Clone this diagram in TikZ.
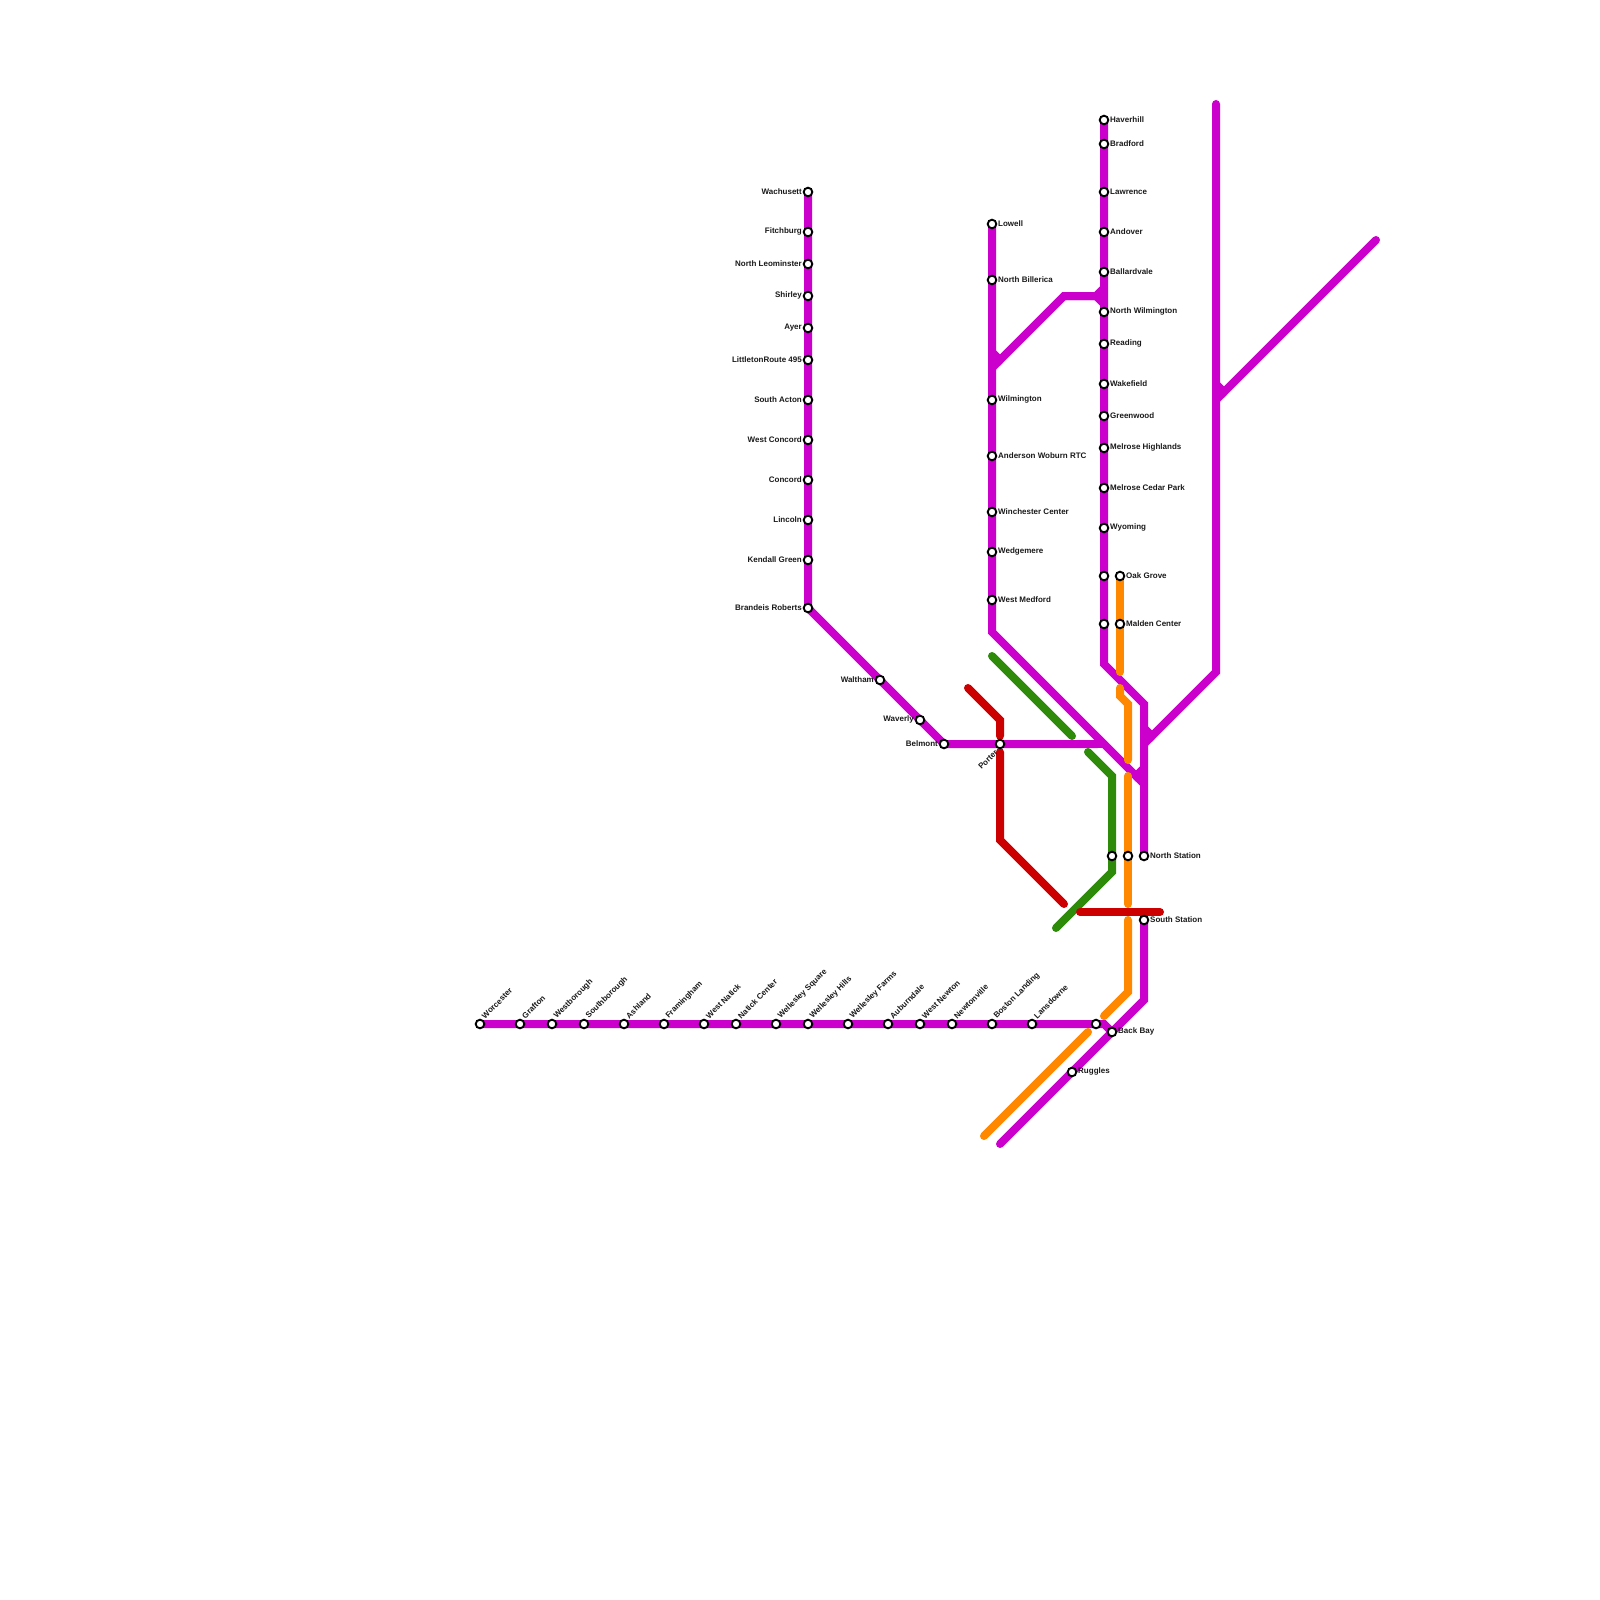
\documentclass[tikz,border=0pt]{standalone}
\usepackage{fontspec}
\setmainfont{Liberation Sans}
\usetikzlibrary{backgrounds}
\definecolor{cpurple}{HTML}{CC00CC}
\definecolor{corange}{HTML}{FF8800}
\definecolor{cgreen}{HTML}{2E8B0A}
\definecolor{cred}{HTML}{CC0000}
\tikzset{
  station/.style={circle,draw=black,fill=white,line width=1.9pt,minimum size=8.6pt,inner sep=0pt},
  lbl/.style={inner sep=0pt,font=\fontsize{8}{9}\selectfont\bfseries,text=black!90},
  route/.style={line width=8pt,line cap=round,line join=miter,miter limit=10},
  purple line/.style={route,draw=cpurple},
  orange line/.style={route,draw=corange},
  green line/.style={route,draw=cgreen},
  red line/.style={route,draw=cred},
}
% station with label to the right, left, rotated up-right, rotated down-left, or none
\newcommand\stR[4]{\node[station] (#1) at (#2,#3) {}; \node[lbl,anchor=west,xshift=6pt,yshift=0.2pt] (#1-t) at (#1.center) {#4};}
\newcommand\stL[4]{\node[station] (#1) at (#2,#3) {}; \node[lbl,anchor=east,xshift=-6pt,yshift=0.2pt] (#1-t) at (#1.center) {#4};}
\newcommand\stD[4]{\node[station] (#1) at (#2,#3) {}; \node[lbl,anchor=west,rotate=45,xshift=7pt,yshift=2.5pt] (#1-t) at (#1.center) {#4};}
\newcommand\stB[4]{\node[station] (#1) at (#2,#3) {}; \node[lbl,anchor=east,rotate=45,xshift=-7.5pt,yshift=-2.5pt] (#1-t) at (#1.center) {#4};}
\newcommand\stN[3]{\node[station] (#1) at (#2,#3) {};}
\begin{document}
\begin{tikzpicture}[x=1pt,y=-1pt]
\useasboundingbox (0,0) rectangle (1600,1600);
% Fitchburg line
\stL{wach}{808}{192}{Wachusett}
\stL{fitch}{808}{232}{Fitchburg}
\stL{nleo}{808}{264}{North Leominster}
\stL{shir}{808}{296}{Shirley}
\stL{ayer}{808}{328}{Ayer}
\stL{litt}{808}{360}{LittletonRoute 495}
\stL{sact}{808}{400}{South Acton}
\stL{wcon}{808}{440}{West Concord}
\stL{conc}{808}{480}{Concord}
\stL{linc}{808}{520}{Lincoln}
\stL{kend}{808}{560}{Kendall Green}
\stL{bran}{808}{608}{Brandeis Roberts}
\stL{walt}{880}{680}{Waltham}
\stL{wave}{920}{720}{Waverly}
\stL{belm}{944}{744}{Belmont}
\stB{port}{1000}{744}{Porter}
% Lowell line
\stR{lowe}{992}{224}{Lowell}
\stR{nbil}{992}{280}{North Billerica}
\stR{wilm}{992}{400}{Wilmington}
\stR{ande}{992}{456}{Anderson Woburn RTC}
\stR{winc}{992}{512}{Winchester Center}
\stR{wedg}{992}{552}{Wedgemere}
\stR{wmed}{992}{600}{West Medford}
% Haverhill line
\stR{have}{1104}{120}{Haverhill}
\stR{brad}{1104}{144}{Bradford}
\stR{lawr}{1104}{192}{Lawrence}
\stR{ando}{1104}{232}{Andover}
\stR{ball}{1104}{272}{Ballardvale}
\stR{nwil}{1104}{312}{North Wilmington}
\stR{read}{1104}{344}{Reading}
\stR{wake}{1104}{384}{Wakefield}
\stR{gree}{1104}{416}{Greenwood}
\stR{mhig}{1104}{448}{Melrose Highlands}
\stR{mced}{1104}{488}{Melrose Cedar Park}
\stR{wyom}{1104}{528}{Wyoming}
\stN{hu}{1104}{576}
\stN{hv}{1104}{624}
\stR{oakg}{1120}{576}{Oak Grove}
\stR{mald}{1120}{624}{Malden Center}
\stN{gn}{1112}{856}
\stN{on}{1128}{856}
\stR{nsta}{1144}{856}{North Station}
\stR{ssta}{1144}{920}{South Station}
\stR{bbay}{1112}{1032}{Back Bay}
\stR{rugg}{1072}{1072}{Ruggles}
\stN{wu}{1096}{1024}
% Worcester line
\stD{worc}{480}{1024}{Worcester}
\stD{graf}{520}{1024}{Grafton}
\stD{west}{552}{1024}{Westborough}
\stD{sout}{584}{1024}{Southborough}
\stD{ashl}{624}{1024}{Ashland}
\stD{fram}{664}{1024}{Framingham}
\stD{wnat}{704}{1024}{West Natick}
\stD{ncen}{736}{1024}{Natick Center}
\stD{wsqu}{776}{1024}{Wellesley Square}
\stD{whil}{808}{1024}{Wellesley Hills}
\stD{wfar}{848}{1024}{Wellesley Farms}
\stD{aubu}{888}{1024}{Auburndale}
\stD{wnew}{920}{1024}{West Newton}
\stD{newt}{952}{1024}{Newtonville}
\stD{bost}{992}{1024}{Boston Landing}
\stD{lans}{1032}{1024}{Lansdowne}
% free ends and bends
\coordinate (p1) at (1096,744);
\coordinate (p2) at (1100,740);
\coordinate (p3) at (1104,744);
\coordinate (p4) at (992,632);
\coordinate (p5) at (1136,776);
\coordinate (p6) at (1144,768);
\coordinate (p7) at (1144,784);
\coordinate (p8) at (1104,664);
\coordinate (p9) at (1144,704);
\coordinate (p10) at (1064,296);
\coordinate (p11) at (1096,296);
\coordinate (p12) at (1104,288);
\coordinate (p13) at (1104,304);
\coordinate (p14) at (1000,360);
\coordinate (p15) at (992,352);
\coordinate (p16) at (992,368);
\coordinate (p17) at (1216,104);
\coordinate (p18) at (1216,672);
\coordinate (p19) at (1152,736);
\coordinate (p20) at (1144,728);
\coordinate (p21) at (1144,744);
\coordinate (p22) at (1376,240);
\coordinate (p23) at (1224,392);
\coordinate (p24) at (1216,384);
\coordinate (p25) at (1216,400);
\coordinate (p26) at (1144,1000);
\coordinate (p27) at (1000,1144);
\coordinate (p28) at (1104,1024);
\coordinate (o1) at (1120,672);
\coordinate (o2) at (1120,688);
\coordinate (o3) at (1120,696);
\coordinate (o4) at (1128,704);
\coordinate (o5) at (1128,760);
\coordinate (o6) at (1128,776);
\coordinate (o7) at (1128,904);
\coordinate (o8) at (1128,920);
\coordinate (o9) at (1128,992);
\coordinate (o10) at (1104,1016);
\coordinate (o11) at (1088,1032);
\coordinate (o12) at (984,1136);
\coordinate (g1) at (992,656);
\coordinate (g2) at (1072,736);
\coordinate (g3) at (1088,752);
\coordinate (g4) at (1112,776);
\coordinate (g5) at (1112,872);
\coordinate (g6) at (1056,928);
\coordinate (r1) at (968,688);
\coordinate (r2) at (1000,720);
\coordinate (r3) at (1000,736);
\coordinate (r4) at (1000,752);
\coordinate (r5) at (1000,840);
\coordinate (r6) at (1064,904);
\coordinate (r7) at (1080,912);
\coordinate (r8) at (1160,912);
\begin{pgfonlayer}{background}
% purple
\draw[purple line] (wach.center) -- (bran.center) -- (belm.center) -- (p1) -- (p2);
\draw[purple line] (p1) -- (p3);
\draw[purple line] (lowe.center) -- (p4) -- (p5) -- (p6);
\draw[purple line] (p5) -- (p7);
\draw[purple line] (have.center) -- (p8) -- (p9) -- (nsta.center);
\draw[purple line] (p10) -- (p11) -- (p12);
\draw[purple line] (p11) -- (p13);
\draw[purple line] (p11) -- (p10) -- (p14) -- (p15);
\draw[purple line] (p14) -- (p16);
\draw[purple line] (p17) -- (p18) -- (p19) -- (p20);
\draw[purple line] (p19) -- (p21);
\draw[purple line] (p22) -- (p23) -- (p24);
\draw[purple line] (p23) -- (p25);
\draw[purple line] (ssta.center) -- (p26) -- (p27);
\draw[purple line] (worc.center) -- (p28) -- (bbay.center);
% orange
\draw[orange line] (oakg.center) -- (o1);
\draw[orange line] (o2) -- (o3) -- (o4) -- (o5);
\draw[orange line] (o6) -- (o7);
\draw[orange line] (o8) -- (o9) -- (o10);
\draw[orange line] (o11) -- (o12);
% green
\draw[green line] (g1) -- (g2);
\draw[green line] (g3) -- (g4) -- (g5) -- (g6);
% red
\draw[red line] (r1) -- (r2) -- (r3);
\draw[red line] (r4) -- (r5) -- (r6);
\draw[red line] (r7) -- (r8);
\end{pgfonlayer}
\end{tikzpicture}
\end{document}
